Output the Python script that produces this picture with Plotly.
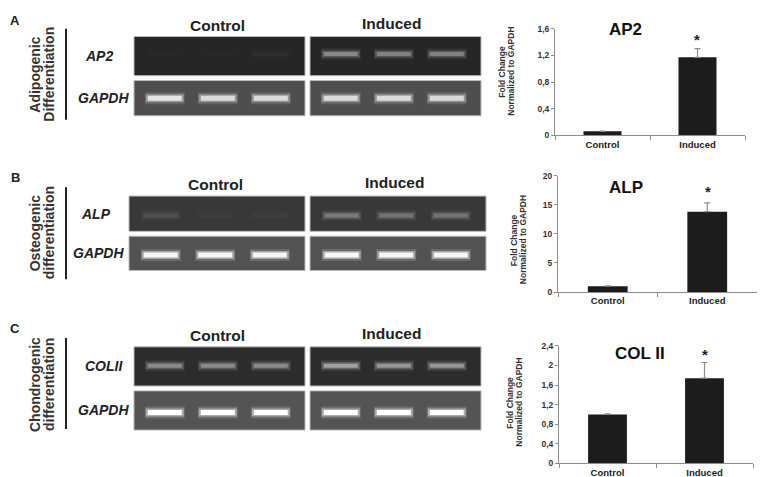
import plotly.graph_objects as go

W, H = 771, 477

# ---------------- data ----------------
groups = ["Control", "Induced"]

ap2_values = [0.06, 1.17]
ap2_err = [0.005, 0.13]
ap2_ticks = [0, 0.4, 0.8, 1.2, 1.6]
ap2_ticktext = ["0", "0,4", "0,8", "1,2", "1,6"]

alp_values = [1.0, 13.8]
alp_err = [0.05, 1.5]
alp_ticks = [0, 5, 10, 15, 20]
alp_ticktext = ["0", "5", "10", "15", "20"]

col_values = [1.0, 1.74]
col_err = [0.01, 0.32]
col_ticks = [0, 0.4, 0.8, 1.2, 1.6, 2.0, 2.4]
col_ticktext = ["0", "0,4", "0,8", "1,2", "1,6", "2", "2,4"]

# band intensities (0..1) per lane: [control lanes], [induced lanes]
ap2_bands = [[0.01, 0.01, 0.04], [0.45, 0.42, 0.42]]
gapdh_a_bands = [[0.85, 0.8, 0.8], [0.8, 0.8, 0.78]]
alp_bands = [[0.12, 0.03, 0.03], [0.33, 0.3, 0.3]]
gapdh_b_bands = [[0.95, 0.95, 0.95], [0.97, 0.95, 0.95]]
col_bands = [[0.45, 0.45, 0.45], [0.55, 0.5, 0.5]]
gapdh_c_bands = [[1.0, 1.0, 1.0], [1.0, 1.0, 0.98]]

fig = go.Figure()

PX = dict(xaxis="x4", yaxis="y4")


def blend(bg, t):
    r = [int(bg[i] + (255 - bg[i]) * t) for i in range(3)]
    return "rgb(%d,%d,%d)" % tuple(r)


panels = [
    dict(letter="A", ly=8, lab=["Adipogenic", "Differentiation"], labcy=63,
         cx=(126, 297), ix=(302, 473), r1=(24, 64), r2=(69, 105), f1=0.45, f2=0.5,
         gene="AP2", b1=ap2_bands, b2=gapdh_a_bands, bg1=(38, 38, 38), bg2=(78, 78, 78),
         vb=(16, 109), ty=(13, 11), gx=(91, 95)),
    dict(letter="B", ly=168, lab=["Osteogenic", "differentiation"], labcy=225,
         cx=(121, 297), ix=(302, 478), r1=(187, 223), r2=(228, 263), f1=0.55, f2=0.55,
         gene="ALP", b1=alp_bands, b2=gapdh_b_bands, bg1=(56, 56, 56), bg2=(82, 82, 82),
         vb=(178, 272), ty=(175, 173), gx=(88, 90)),
    dict(letter="C", ly=322, lab=["Chondrogenic", "differentiation"], labcy=380,
         cx=(126, 297), ix=(302, 473), r1=(341, 381), r2=(386, 426), f1=0.48, f2=0.55,
         gene="COLII", b1=col_bands, b2=gapdh_c_bands, bg1=(44, 44, 44), bg2=(84, 84, 84),
         vb=(332, 425), ty=(329, 327), gx=(96, 95)),
]
lanes = [0.18, 0.49, 0.8]

shapes = []
annotations = []
for p in panels:
    for gx in (p["cx"], p["ix"]):
        for (y0, y1), bg in ((p["r1"], p["bg1"]), (p["r2"], p["bg2"])):
            shapes.append(dict(type="rect", xref="x4", yref="y4", x0=gx[0], x1=gx[1], y0=y0, y1=y1,
                               fillcolor="rgb(%d,%d,%d)" % bg, line=dict(color="#b8b8b8", width=1),
                               layer="below"))
    for row, frac, bands, bg, core in ((p["r1"], p["f1"], p["b1"], p["bg1"], 4),
                                       (p["r2"], p["f2"], p["b2"], p["bg2"], 5)):
        by = row[0] + (row[1] - row[0]) * frac
        for gx, inten in zip((p["cx"], p["ix"]), bands):
            for k, t in enumerate(inten):
                xc = gx[0] + (gx[1] - gx[0]) * lanes[k]
                for wid, op, tt, half in ((core + 7, 0.3, t * 0.5, 20), (core + 3, 0.55, t * 0.8, 19),
                                          (core, 1.0, t, 17)):
                    fig.add_trace(go.Scatter(x=[xc - half, xc + half], y=[by, by], mode="lines",
                                             line=dict(color=blend(bg, tt), width=wid),
                                             opacity=op, hoverinfo="skip", showlegend=False, **PX))
    annotations.append(dict(x=7, y=p["ly"], xref="x4", yref="y4", text="<b>%s</b>" % p["letter"],
                            showarrow=False, font=dict(size=13, color="#222"), xanchor="center", yanchor="middle"))
    annotations.append(dict(x=27, y=p["labcy"], xref="x4", yref="y4", text="<b>%s</b>" % p["lab"][0],
                            textangle=-90, showarrow=False, font=dict(size=14, color="#333")))
    annotations.append(dict(x=41, y=p["labcy"], xref="x4", yref="y4", text="<b>%s</b>" % p["lab"][1],
                            textangle=-90, showarrow=False, font=dict(size=14, color="#333")))
    shapes.append(dict(type="line", xref="x4", yref="y4", x0=58, x1=58, y0=p["vb"][0], y1=p["vb"][1],
                       line=dict(color="#222", width=2)))
    annotations.append(dict(x=(p["cx"][0] + p["cx"][1]) / 2 - 2, y=p["ty"][0], xref="x4", yref="y4",
                            text="<b>Control</b>", showarrow=False, font=dict(size=15.5, color="#222")))
    annotations.append(dict(x=(p["ix"][0] + p["ix"][1]) / 2 - 4, y=p["ty"][1], xref="x4", yref="y4",
                            text="<b>Induced</b>", showarrow=False, font=dict(size=15.5, color="#222")))
    annotations.append(dict(x=p["gx"][0], y=(p["r1"][0] + p["r1"][1]) / 2, xref="x4", yref="y4",
                            text="<b><i>%s</i></b>" % p["gene"], showarrow=False, xanchor="center",
                            font=dict(size=14, color="#222")))
    annotations.append(dict(x=p["gx"][1], y=(p["r2"][0] + p["r2"][1]) / 2, xref="x4", yref="y4",
                            text="<b><i>GAPDH</i></b>", showarrow=False, xanchor="center",
                            font=dict(size=14, color="#222")))

charts = [
    dict(name="AP2", vals=ap2_values, err=ap2_err, ticks=ap2_ticks, tt=ap2_ticktext,
         xpx=(547, 737), ypx=(16, 125), title=(617, 17), star=(689, 25), ylab=(498, 60)),
    dict(name="ALP", vals=alp_values, err=alp_err, ticks=alp_ticks, tt=alp_ticktext,
         xpx=(550, 749), ypx=(166, 285), title=(618, 178), star=(700, 180), ylab=(510, 232)),
    dict(name="COL II", vals=col_values, err=col_err, ticks=col_ticks, tt=col_ticktext,
         xpx=(551, 745), ypx=(340, 460), title=(632, 348), star=(697, 347), ylab=(506, 398)),
]

layout_axes = {}
for i, c in enumerate(charts, start=1):
    sfx = "" if i == 1 else str(i)
    fig.add_trace(go.Bar(x=groups, y=c["vals"], width=0.4, marker=dict(color="#1c1c1c", line=dict(width=0)),
                         error_y=dict(type="data", symmetric=False, array=c["err"], arrayminus=[0, 0],
                                      color="#8c8c8c", thickness=1.2, width=3),
                         showlegend=False, xaxis="x" + sfx, yaxis="y" + sfx))
    layout_axes["xaxis" + sfx] = dict(domain=[c["xpx"][0] / W, c["xpx"][1] / W], anchor="y" + sfx,
                                      type="category", range=[-0.5, 1.5], tickson="boundaries",
                                      showline=True, linecolor="#8c8c8c", linewidth=1, ticks="outside",
                                      ticklen=4, tickcolor="#8c8c8c", showgrid=False, zeroline=False,
                                      tickfont=dict(size=9.5, color="#222", weight="bold"))
    layout_axes["yaxis" + sfx] = dict(domain=[1 - c["ypx"][1] / H, 1 - c["ypx"][0] / H], anchor="x" + sfx,
                                      range=[0, c["ticks"][-1]], tickvals=c["ticks"], ticktext=c["tt"],
                                      showline=True, linecolor="#8c8c8c", linewidth=1, ticks="outside",
                                      ticklen=3, tickcolor="#8c8c8c", showgrid=False, zeroline=False,
                                      tickfont=dict(size=8.5, color="#333", weight="bold"))
    annotations.append(dict(x=c["title"][0], y=c["title"][1], xref="x4", yref="y4", text="<b>%s</b>" % c["name"],
                            showarrow=False, font=dict(size=17, color="#111")))
    annotations.append(dict(x=c["star"][0], y=c["star"][1] + 2, xref="x4", yref="y4", text="<b>*</b>",
                            showarrow=False, font=dict(size=15, color="#222")))
    annotations.append(dict(x=c["ylab"][0] - 4, y=c["ylab"][1], xref="x4", yref="y4", text="<b>Fold Change</b>",
                            textangle=-90, showarrow=False, font=dict(size=8.5, color="#333")))
    annotations.append(dict(x=c["ylab"][0] + 5, y=c["ylab"][1], xref="x4", yref="y4",
                            text="<b>Normalized to GAPDH</b>", textangle=-90, showarrow=False,
                            font=dict(size=8.5, color="#333")))

annotations.append(dict(x=761, y=467, xref="x4", yref="y4", text="<b>*</b>", showarrow=False,
                        font=dict(size=14, color="#222")))

fig.update_layout(
    width=W, height=H, margin=dict(l=0, r=0, t=0, b=0),
    paper_bgcolor="white", plot_bgcolor="rgba(0,0,0,0)",
    font=dict(family="Arial, Liberation Sans, sans-serif"),
    xaxis4=dict(domain=[0, 1], range=[0, W], visible=False, anchor="y4", fixedrange=True),
    yaxis4=dict(domain=[0, 1], range=[H, 0], visible=False, anchor="x4", fixedrange=True),
    shapes=shapes, annotations=annotations, bargap=0.6,
    **layout_axes,
)

fig.write_html("out.html")
